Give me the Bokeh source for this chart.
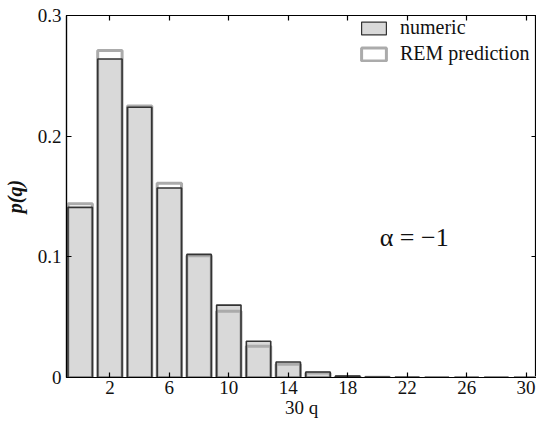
from bokeh.plotting import figure
from bokeh.models import Range1d, LinearAxis, FixedTicker, Legend, LegendItem, Label
from bokeh.embed import file_html
from bokeh.resources import INLINE

# data
q30 = [0, 2, 4, 6, 8, 10, 12, 14, 16, 18, 20, 22, 24, 26, 28, 30]
numeric = [0.141, 0.264, 0.224, 0.157, 0.102, 0.060, 0.030, 0.0128, 0.0046, 0.0012, 0.0004, 0.0001, 0.0, 0.0, 0.0, 0.0]
rem = [0.144, 0.271, 0.225, 0.161, 0.101, 0.055, 0.026, 0.011, 0.0037, 0.0009, 0.0002, 0.0, 0.0, 0.0, 0.0, 0.0]
x_ticks = [2, 6, 10, 14, 18, 22, 26, 30]
y_ticks = [0, 0.1, 0.2, 0.3]
y_tick_labels = {0: "0", 0.1: "0.1", 0.2: "0.2", 0.3: "0.3"}

FONT = "Liberation Serif"

p = figure(width=536, height=420, output_backend="svg", toolbar_location=None,
           x_range=Range1d(-0.92, 30.7), y_range=Range1d(0, 0.3),
           min_border_left=62, min_border_right=0, min_border_top=15, min_border_bottom=40,
           x_axis_location=None, y_axis_location=None)
p.grid.visible = False
p.outline_line_color = "black"
p.outline_line_width = 1.2
p.background_fill_color = "white"
p.border_fill_color = "white"

def style_axis(ax, labels=True):
    ax.major_tick_in = 5
    ax.major_tick_out = 0
    ax.minor_tick_line_color = None
    ax.axis_line_color = "black"
    ax.axis_line_width = 1.2
    ax.major_tick_line_color = "black"
    ax.major_tick_line_width = 1.2
    ax.major_label_text_font = FONT
    ax.major_label_text_font_size = "19px"
    ax.major_label_text_color = "#111111"
    ax.axis_label_text_font = FONT
    ax.axis_label_text_font_size = "20px"
    ax.axis_label_text_color = "#111111"
    if not labels:
        ax.major_label_text_font_size = "0px"
        ax.major_label_text_color = None
        ax.major_label_standoff = 0

bottom = LinearAxis(ticker=FixedTicker(ticks=x_ticks), axis_label="30 q")
style_axis(bottom)
bottom.major_label_standoff = 3
bottom.axis_label_standoff = 0
bottom.axis_label_text_font_size = "19px"
bottom.axis_label_text_font_style = "normal"
p.add_layout(bottom, "below")

top = LinearAxis(ticker=FixedTicker(ticks=x_ticks))
style_axis(top, labels=False)
p.add_layout(top, "above")

left = LinearAxis(ticker=FixedTicker(ticks=y_ticks), axis_label="p(q)")
style_axis(left)
left.major_label_overrides = y_tick_labels
left.major_label_standoff = 5
left.axis_label_standoff = 9
left.axis_label_text_font_style = "bold italic"
p.add_layout(left, "left")

right = LinearAxis(ticker=FixedTicker(ticks=y_ticks))
style_axis(right, labels=False)
p.add_layout(right, "right")

W = 1.64
r_fill = p.vbar(x=q30, top=numeric, width=W, bottom=0, fill_color="#d9d9d9", line_color=None)
r_rem = p.vbar(x=q30, top=rem, width=W, bottom=0, fill_color=None, line_color="#ababab", line_width=3)
r_num = p.vbar(x=q30, top=numeric, width=W, bottom=0, fill_color=None, line_color="#333333", line_width=1.6)

# legend swatch renderer for "numeric" (not drawn in the plot)
r_leg_num = p.vbar(x=[0], top=[0], width=0, fill_color="#d9d9d9", line_color="#333333", line_width=1.2)
r_leg_num.visible = False
legend = Legend(items=[LegendItem(label="numeric", renderers=[r_leg_num]),
                       LegendItem(label="REM prediction", renderers=[r_rem])],
                location=(292, 312))
legend.border_line_color = None
legend.background_fill_alpha = 0
legend.padding = 0
legend.margin = 0
legend.spacing = 3
legend.glyph_width = 31
legend.glyph_height = 16
legend.label_height = 20
legend.label_standoff = 11
legend.label_text_font = FONT
legend.label_text_font_size = "20px"
legend.label_text_color = "#111111"
p.add_layout(legend, "center")

lab = Label(x=20.15, y=0.116, text="α = −1", text_font=FONT, text_font_size="26px",
            text_baseline="middle", text_align="left", text_color="#111111")
p.add_layout(lab)

open("out.html", "w").write(file_html(p, INLINE))
